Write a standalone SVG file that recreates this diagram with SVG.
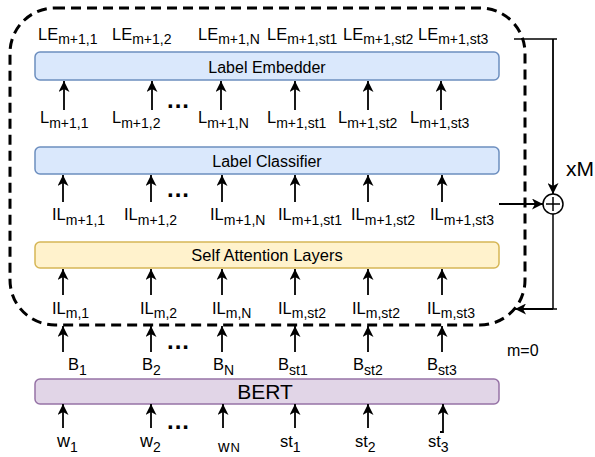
<svg xmlns="http://www.w3.org/2000/svg" width="595" height="457" viewBox="0 0 595 457">
<style>
text{font-family:"Liberation Sans",Arial,sans-serif;fill:#000}
.lbl{font-size:16.5px}
.sub{font-size:14px}
.box{font-size:16px}
.dots{font-size:24px;font-weight:bold;letter-spacing:1px}
.ar{stroke:#000;stroke-width:1.8;fill:none;marker-end:url(#ah)}
.ln{stroke:#000;stroke-width:1.5;fill:none}
</style>
<defs>
<marker id="ah" markerWidth="11" markerHeight="11" refX="11" refY="5.5" orient="auto" markerUnits="userSpaceOnUse">
<path d="M0,0 L11,5.5 L0,11 L3,5.5 Z" fill="#000"/>
</marker>
</defs>
<rect width="595" height="457" fill="#fff"/>

<g id="loop-container">
<path d="M55,8 H480 A45,45 0 0 1 525,53 V280 A45,45 0 0 1 480,325 H55 A45,45 0 0 1 10,280 V53 A45,45 0 0 1 55,8 Z" fill="none" stroke="#000" stroke-width="3" stroke-dasharray="10 6"/>
</g>

<g id="label-embedder">
<rect x="35" y="52" width="464" height="28" rx="5" fill="#dae8fc" stroke="#6c8ebf" stroke-width="1.5"/>
<text class="box" x="267" y="73" text-anchor="middle">Label Embedder</text>
</g>
<g id="label-classifier">
<rect x="35" y="147" width="464" height="27" rx="5" fill="#dae8fc" stroke="#6c8ebf" stroke-width="1.5"/>
<text class="box" x="267" y="167" text-anchor="middle">Label Classifier</text>
</g>
<g id="self-attention">
<rect x="35" y="242" width="464" height="26" rx="5" fill="#fff2cc" stroke="#d6b656" stroke-width="1.5"/>
<text class="box" x="267" y="261" text-anchor="middle" style="font-size:16.5px">Self Attention Layers</text>
</g>
<g id="bert">
<rect x="35" y="379" width="464" height="25" rx="5" fill="#e1d5e7" stroke="#9673a6" stroke-width="1.5"/>
<text x="265" y="399" text-anchor="middle" style="font-size:21px">BERT</text>
</g>

<g id="plus-node">
<circle cx="553" cy="204" r="10" fill="#fff" stroke="#000" stroke-width="1.5"/>
<path d="M546,204 H560 M553,197 V211" stroke="#000" stroke-width="1.5"/>
</g>

<g id="connectors">
<path class="ar" d="M64,110 V81"/>
<path class="ar" d="M152,110 V81"/>
<path class="ar" d="M221,110 V81"/>
<path class="ar" d="M295,110 V81"/>
<path class="ar" d="M368,110 V81"/>
<path class="ar" d="M441,110 V81"/>
<path class="ar" d="M63,202 V175"/>
<path class="ar" d="M151,202 V175"/>
<path class="ar" d="M222,202 V175"/>
<path class="ar" d="M295,202 V175"/>
<path class="ar" d="M368,202 V175"/>
<path class="ar" d="M442,202 V175"/>
<path class="ar" d="M63,295 V269"/>
<path class="ar" d="M151,295 V269"/>
<path class="ar" d="M222,295 V269"/>
<path class="ar" d="M295,295 V269"/>
<path class="ar" d="M368,295 V269"/>
<path class="ar" d="M442,295 V269"/>
<path class="ar" d="M63,352 V326"/>
<path class="ar" d="M151,352 V326"/>
<path class="ar" d="M222,352 V326"/>
<path class="ar" d="M295,352 V326"/>
<path class="ar" d="M368,352 V326"/>
<path class="ar" d="M442,352 V326"/>
<path class="ar" d="M63,428 V404"/>
<path class="ar" d="M151,428 V404"/>
<path class="ar" d="M223,428 V404"/>
<path class="ar" d="M295,428 V404"/>
<path class="ar" d="M368,428 V404"/>
<path class="ar" d="M440,432 H443 V404"/>
<path class="ln" d="M514,39 H557"/>
<path class="ar" d="M553,39 V194"/>
<path class="ar" d="M499,204 H543"/>
<path class="ln" d="M553,214 V309 H557"/>
<path class="ar" d="M553,309 H515"/>
</g>

<g id="labels">
<text class="lbl" x="38" y="40">LE<tspan class="sub" dy="4">m+1,1</tspan></text>
<text class="lbl" x="112" y="40">LE<tspan class="sub" dy="4">m+1,2</tspan></text>
<text class="lbl" x="198" y="40">LE<tspan class="sub" dy="4">m+1,N</tspan></text>
<text class="lbl" x="267" y="40">LE<tspan class="sub" dy="4">m+1,st1</tspan></text>
<text class="lbl" x="343" y="40">LE<tspan class="sub" dy="4">m+1,st2</tspan></text>
<text class="lbl" x="418" y="40">LE<tspan class="sub" dy="4">m+1,st3</tspan></text>

<text class="lbl" x="40" y="123">L<tspan class="sub" dy="5">m+1,1</tspan></text>
<text class="lbl" x="112" y="123">L<tspan class="sub" dy="5">m+1,2</tspan></text>
<text class="lbl" x="198" y="123">L<tspan class="sub" dy="5">m+1,N</tspan></text>
<text class="lbl" x="267" y="123">L<tspan class="sub" dy="5">m+1,st1</tspan></text>
<text class="lbl" x="338" y="123">L<tspan class="sub" dy="5">m+1,st2</tspan></text>
<text class="lbl" x="410" y="123">L<tspan class="sub" dy="5">m+1,st3</tspan></text>

<text class="lbl" x="52" y="220">IL<tspan class="sub" dy="5">m+1,1</tspan></text>
<text class="lbl" x="124" y="220">IL<tspan class="sub" dy="5">m+1,2</tspan></text>
<text class="lbl" x="210" y="220">IL<tspan class="sub" dy="5">m+1,N</tspan></text>
<text class="lbl" x="278" y="220">IL<tspan class="sub" dy="5">m+1,st1</tspan></text>
<text class="lbl" x="351" y="220">IL<tspan class="sub" dy="5">m+1,st2</tspan></text>
<text class="lbl" x="430" y="220">IL<tspan class="sub" dy="5">m+1,st3</tspan></text>

<text class="lbl" x="52" y="314">IL<tspan class="sub" dy="4">m,1</tspan></text>
<text class="lbl" x="140" y="314">IL<tspan class="sub" dy="4">m,2</tspan></text>
<text class="lbl" x="212" y="314">IL<tspan class="sub" dy="4">m,N</tspan></text>
<text class="lbl" x="278" y="314">IL<tspan class="sub" dy="4">m,st2</tspan></text>
<text class="lbl" x="352" y="314">IL<tspan class="sub" dy="4">m,st2</tspan></text>
<text class="lbl" x="427" y="314">IL<tspan class="sub" dy="4">m,st3</tspan></text>

<text class="lbl" x="68" y="370">B<tspan class="sub" dy="5">1</tspan></text>
<text class="lbl" x="142" y="370">B<tspan class="sub" dy="5">2</tspan></text>
<text class="lbl" x="213" y="370">B<tspan class="sub" dy="5">N</tspan></text>
<text class="lbl" x="278" y="370">B<tspan class="sub" dy="5">st1</tspan></text>
<text class="lbl" x="353" y="370">B<tspan class="sub" dy="5">st2</tspan></text>
<text class="lbl" x="427" y="370">B<tspan class="sub" dy="5">st3</tspan></text>

<text class="lbl" x="57" y="447" style="font-size:18px">w<tspan class="sub" dy="5">1</tspan></text>
<text class="lbl" x="140" y="447" style="font-size:18px">w<tspan class="sub" dy="5">2</tspan></text>
<text class="lbl" x="218" y="452" style="font-size:16px">w<tspan style="font-size:13px" dx="1">N</tspan></text>
<text class="lbl" x="280" y="447">st<tspan class="sub" dy="5">1</tspan></text>
<text class="lbl" x="355" y="447">st<tspan class="sub" dy="5">2</tspan></text>
<text class="lbl" x="428" y="447">st<tspan class="sub" dy="5">3</tspan></text>

<text class="dots" x="167" y="108">...</text>
<text class="dots" x="167" y="197">...</text>
<text class="dots" x="167" y="349">...</text>
<text class="dots" x="167" y="429">...</text>

<text x="566" y="176" style="font-size:21px">xM</text>
<text x="507" y="356" style="font-size:16px">m=0</text>
</g>
</svg>
